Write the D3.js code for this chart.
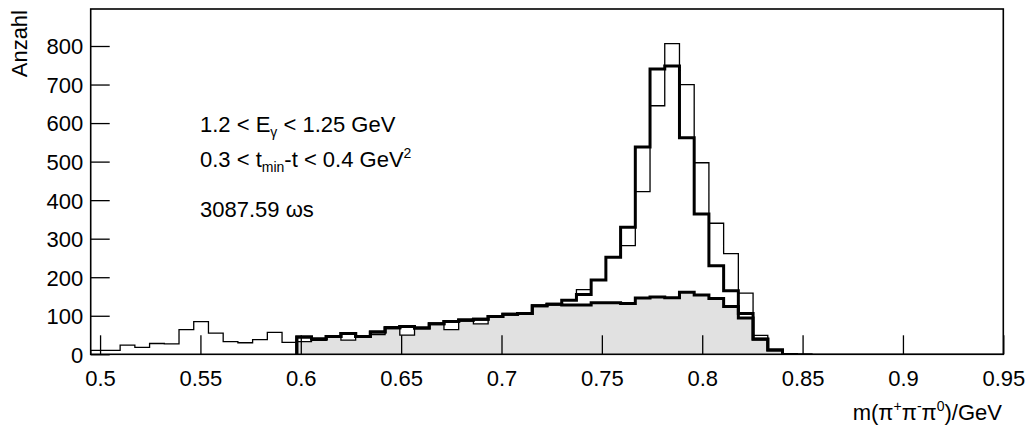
<!DOCTYPE html>
<html><head><meta charset="utf-8">
<script src="https://cdn.jsdelivr.net/npm/d3@7/dist/d3.min.js"></script>
<style>
body{margin:0;background:#fff}
svg{display:block}
text{font-family:"Liberation Sans",Arial,Helvetica,sans-serif;fill:#000}
</style>
</head><body>
<svg id="c" width="1030" height="428"></svg>
<script>
// ---- data (62 bins of width 0.44/60 ending at 0.95) ----
const binStart = 0.4953333;
const binWidth = 0.0073333;
const dataCounts = [10,10,24,18,28,27,64,85,55,33,30,38,57,31,
  33,36,45,37,46,51,71,50,69,79,64,86,79,98,103,106,126,130,140,168,193,252,282,422,645,806,700,497,340,261,159,49,12,
  2,1,0,0,0,0,0,0,0,0,0,0,0,0,0];
const fitStartBin = 14;
const totalCounts = [45,40,46,54,46,58,69,72,68,79,85,89,91,98,104,106,126,130,140,155,193,252,330,538,740,748,562,364,230,165,106,40,11];
const bkgCounts   = [45,40,46,54,46,58,69,72,68,79,85,89,91,98,104,106,126,130,128,128,134,134,132,146,149,147,161,154,145,124,94,39,11];
const fillCounts  = [33,36,45,37,46,51,69,50,68,79,64,86,79,98,103,106,126,130,128,128,134,134,132,146,149,147,161,154,145,124,94,39,11];
const xMajorTicks = [0.5,0.55,0.6,0.65,0.7,0.75,0.8,0.85,0.9,0.95];
const xTickLabels = ["0.5","0.55","0.6","0.65","0.7","0.75","0.8","0.85","0.9","0.95"];
const xMinorTicks = [0.525,0.575,0.625,0.675,0.725,0.775,0.825,0.875,0.925];
const yMajorTicks = [0,100,200,300,400,500,600,700,800];
const yMinorTicks = [20,40,60,80,120,140,160,180,220,240,260,280,320,340,360,380,420,440,460,480,520,540,560,580,620,640,660,680,720,740,760,780,820,840,860,880];
const yMax = 896;

// ---- layout ----
const L = 90.7, R = 1003.3, T = 9, B = 354.3;
const svg = d3.select("#c");
const x = d3.scaleLinear().domain([binStart, 0.95]).range([L, R]);
const y = d3.scaleLinear().domain([0, yMax]).range([B, T]);

function stepPoints(counts, firstBin){
  const pts = [[binStart + firstBin*binWidth, 0]];
  counts.forEach((c,i)=>{
    const a = binStart + (firstBin+i)*binWidth;
    pts.push([a, c]); pts.push([a+binWidth, c]);
  });
  pts.push([binStart + (firstBin+counts.length)*binWidth, 0]);
  return pts;
}
const line = d3.line().x(d=>x(d[0])).y(d=>y(d[1]));
const area = d3.area().x(d=>x(d[0])).y0(y(0)).y1(d=>y(d[1]));

// grey fill
svg.append("path").attr("d", area(stepPoints(fillCounts, fitStartBin)))
  .attr("fill","#e1e1e1").attr("stroke","none");
// data (thin)
svg.append("path").attr("d", line(stepPoints(dataCounts, 0)))
  .attr("fill","none").attr("stroke","#000").attr("stroke-width",1.3);
// background (thick)
svg.append("path").attr("d", line(stepPoints(bkgCounts, fitStartBin)))
  .attr("fill","none").attr("stroke","#000").attr("stroke-width",3).attr("stroke-linejoin","miter");
// total (thick)
svg.append("path").attr("d", line(stepPoints(totalCounts, fitStartBin)))
  .attr("fill","none").attr("stroke","#000").attr("stroke-width",3).attr("stroke-linejoin","miter");

// ---- axes ----
const fs = "22px";
const gx = svg.append("g").attr("transform",`translate(0,${B})`);
gx.call(d3.axisBottom(x).tickValues(xMinorTicks).tickSize(-9).tickFormat(""));
gx.call(d3.axisBottom(x).tickValues(xMajorTicks).tickSize(-19).tickPadding(16)
  .tickFormat((d,i)=>xTickLabels[i]));
gx.selectAll("path.domain").remove();
gx.selectAll("text").style("font-size",fs).attr("font-family",null);
const gy = svg.append("g").attr("transform",`translate(${L},0)`);
gy.call(d3.axisLeft(y).tickValues(yMinorTicks).tickSize(-9).tickFormat(""));
gy.call(d3.axisLeft(y).tickValues(yMajorTicks).tickSize(-19).tickPadding(7.4));
gy.selectAll("path.domain").remove();
gy.selectAll("text").style("font-size",fs).attr("dy","0.36em").attr("font-family",null);
svg.selectAll(".tick line").attr("stroke","#000").attr("stroke-width",1.3);

// frame
svg.append("rect").attr("x",L).attr("y",T).attr("width",R-L).attr("height",B-T)
  .attr("fill","none").attr("stroke","#000").attr("stroke-width",1.6);

// ---- titles ----
const xt = svg.append("text").attr("x",1002).attr("y",420).attr("text-anchor","end").style("font-size",fs);
function addParts(t, parts){
  let shift = 0;
  parts.forEach(p=>{
    const ts = t.append("tspan").text(p.s);
    const target = p.d || 0;
    ts.attr("dy", target - shift);
    shift = target;
    if(p.f) ts.style("font-size", p.f);
  });
}
addParts(xt, [{s:"m(π"},{s:"+",d:-9,f:"14px"},{s:"π"},{s:"-",d:-9,f:"14px"},{s:"π"},{s:"0",d:-9,f:"14px"},{s:")/GeV"}]);
svg.append("text").attr("transform","translate(27,10) rotate(-90)").attr("text-anchor","end")
  .style("font-size",fs).text("Anzahl");

const afs = "22px";
const t1 = svg.append("text").attr("x",200).attr("y",131.5).style("font-size",afs);
addParts(t1, [{s:"1.2 < E"},{s:"γ",d:5,f:"14px"},{s:" < 1.25 GeV"}]);
const t2 = svg.append("text").attr("x",200).attr("y",167).style("font-size",afs);
addParts(t2, [{s:"0.3 < t"},{s:"min",d:5,f:"14px"},{s:"-t < 0.4 GeV"},{s:"2",d:-9,f:"14px"}]);
svg.append("text").attr("x",200).attr("y",216.5).style("font-size",afs).text("3087.59 ωs");
</script>
</body></html>
